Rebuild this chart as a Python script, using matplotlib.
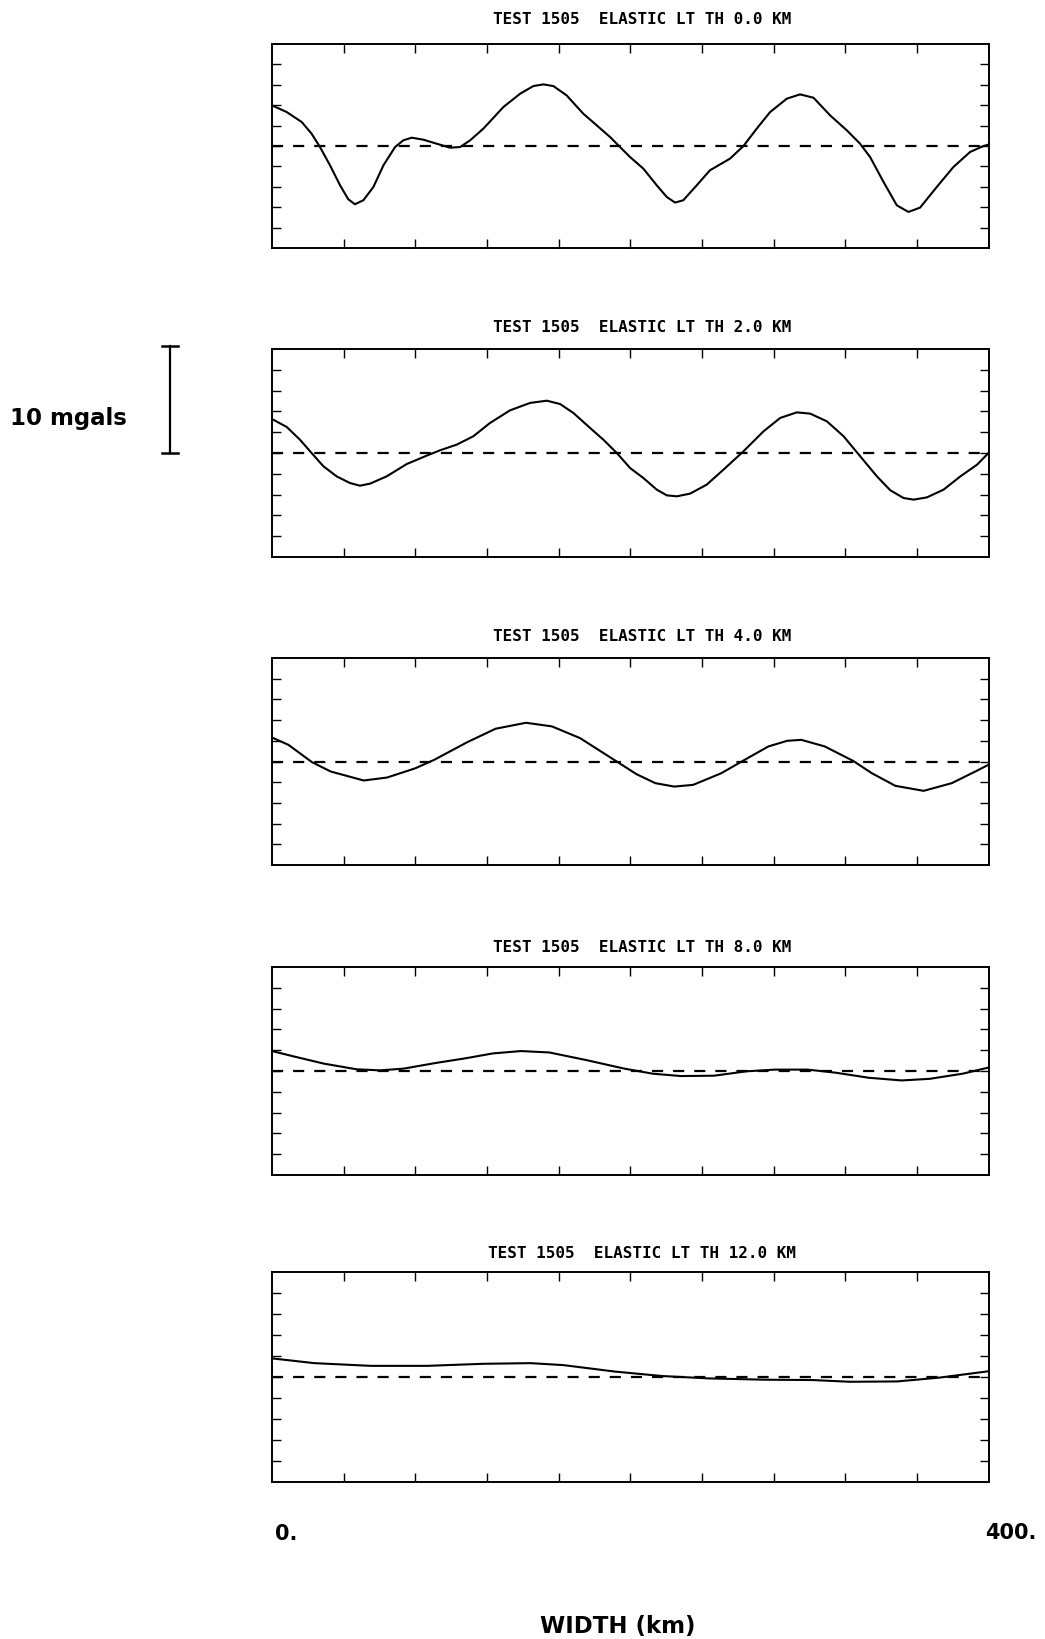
import numpy as np
import matplotlib
matplotlib.use("Agg")
import matplotlib.pyplot as plt
import matplotlib.transforms as mtransforms

# elastic lithosphere thickness of each panel (km)
thickness = [0.0, 2.0, 4.0, 8.0, 12.0]

# gravity anomaly profiles (km, mgal)
x_0km = [0, 8.2, 16.6, 22.1, 26.8, 32.4, 38, 42.6, 46.3, 51, 56.6, 62.2, 68.7, 73.3,
         78, 84.5, 91.9, 99.4, 105, 110.6, 118, 129.2, 138.5, 145.9, 151.5, 157.1,
         164.5, 173.8, 181.3, 188.7, 194.3, 199.9, 207.3, 214.8, 220.4, 225, 229.6,
         237.1, 244.5, 255.7, 263.2, 270.6, 278.1, 287.4, 294.8, 302.3, 311.6, 320.9,
         328.3, 333.9, 341.4, 348.8, 355.3, 361.8, 371.1, 380.4, 389.7, 397.2, 400]
g_0km = [3.86, 3.23, 2.28, 1.17, -0.10, -1.84, -3.74, -5.07, -5.54, -5.16, -3.9, -1.84,
         -0.1, 0.54, 0.79, 0.60, 0.22, -0.16, -0.1, 0.54, 1.65, 3.71, 4.97, 5.70, 5.86,
         5.70, 4.81, 3.07, 1.96, 0.86, -0.1, -1.05, -2.15, -3.74, -4.85, -5.38, -5.16,
         -3.74, -2.31, -1.20, 0, 1.65, 3.23, 4.50, 4.91, 4.59, 2.91, 1.49,
         0.22, -1.05, -3.42, -5.64, -6.27, -5.86, -3.90, -2.0, -0.57, 0, 0.13]

x_2km = [0, 8.2, 15.6, 22.1, 28.7, 36.1, 43.5, 49.1, 54.7, 64, 75.2, 86.3, 93.8, 103.1,
         112.4, 121.7, 132.9, 144.1, 153.4, 160.8, 168.3, 177.6, 185, 192.5, 199.9,
         207.3, 214.8, 220.4, 226, 233.4, 242.7, 252, 263.2, 274.4, 283.7, 293, 300.5,
         309.8, 319.1, 328.4, 337.7, 345.2, 352.6, 358.2, 365.6, 374.9, 384.3, 393.6, 400]
g_2km = [3.17, 2.43, 1.24, 0, -1.24, -2.18, -2.80, -3.05, -2.86, -2.18, -1.03, -0.25, 0.25,
         0.78, 1.56, 2.80, 3.98, 4.67, 4.88, 4.57, 3.73, 2.33, 1.24, 0, -1.40,
         -2.33, -3.42, -3.95, -4.04, -3.79, -2.95, -1.56, 0.16, 2.02, 3.27, 3.79, 3.67,
         2.95, 1.56, -0.31, -2.18, -3.48, -4.20, -4.35, -4.14, -3.42, -2.18, -1.09, 0]

x_4km = [0, 9.2, 22.3, 32.8, 51.2, 64.3, 80.1, 90.6, 109, 124.8, 141.8, 156.3, 172,
         193, 203.5, 214, 224.6, 235.1, 250.8, 263.9, 277.1, 287.6, 295.5, 308.6,
         324.4, 334.9, 348, 363.8, 379.5, 392.6, 400]
g_4km = [2.25, 1.56, -0.06, -0.94, -1.78, -1.5, -0.63, 0.16, 1.81, 3.07, 3.63, 3.29, 2.19,
         -0.06, -1.19, -2.03, -2.35, -2.19, -1.1, 0.16, 1.41, 1.94, 2.03, 1.41,
         0.06, -1.1, -2.28, -2.75, -2.03, -0.94, -0.31]

x_8km = [0, 13.1, 28.9, 47.2, 60.3, 73.4, 91.8, 107.5, 123.3, 139, 154.8, 175.7, 196.7,
         212.5, 228.2, 246.6, 264.9, 280.7, 299, 314.8, 333.1, 351.5, 367.2, 385.6, 400]
g_8km = [1.86, 1.32, 0.69, 0.16, 0.06, 0.22, 0.76, 1.17, 1.64, 1.86, 1.73, 1.01, 0.22,
         -0.25, -0.47, -0.44, -0.03, 0.13, 0.13, -0.16, -0.63, -0.88, -0.73, -0.25, 0.32]

x_12km = [0, 23.6, 55.1, 86.6, 118, 144.3, 162.6, 191.5, 217.7, 243.9, 275.4, 301.6,
          322.6, 348.9, 372.5, 400]
g_12km = [1.72, 1.28, 1.03, 1.03, 1.22, 1.28, 1.10, 0.5, 0.09, -0.13, -0.25, -0.28,
          -0.44, -0.41, -0.06, 0.53]

profiles = [(x_0km, g_0km), (x_2km, g_2km), (x_4km, g_4km), (x_8km, g_8km), (x_12km, g_12km)]

# panel top/bottom in pixels of the 1045x1640 page, title centre y
W, H = 1045, 1640
panel_px = [(45, 249), (350, 558), (659, 866), (968, 1176), (1273, 1483)]
title_px = [19, 327, 637, 948, 1254]
left_px, right_px = 272, 988.5

fig = plt.figure(figsize=(W / 100, H / 100), dpi=100)
fig.patch.set_facecolor("w")

ylim = 9.7
axes = []
for i, ((top, bot), (xs, gs)) in enumerate(zip(panel_px, profiles)):
    ax = fig.add_axes([left_px / W, 1 - bot / H, (right_px - left_px) / W, (bot - top) / H])
    ax.plot(xs, gs, color="k", lw=1.5, solid_joinstyle="round")
    ax.axhline(0, color="k", lw=1.6, ls=(0, (5, 4.5)))
    ax.set_xlim(0, 400)
    ax.set_ylim(-ylim, ylim)
    ax.set_xticks(np.arange(40, 400, 40))
    ax.set_yticks(np.linspace(-ylim, ylim, 11)[1:-1])
    ax.tick_params(direction="in", length=6.5, width=1.0, top=True, right=True,
                   labelbottom=False, labelleft=False)
    for s in ax.spines.values():
        s.set_linewidth(1.4)
    fig.text(642 / W, 1 - title_px[i] / H,
             "TEST 1505  ELASTIC LT TH %.1f KM" % thickness[i],
             ha="center", va="center", family="DejaVu Sans Mono",
             fontweight="bold", fontsize=11.5)
    axes.append(ax)

# 10 mgal scale bar next to the second panel
ax2 = axes[1]
trans = mtransforms.blended_transform_factory(ax2.transAxes, ax2.transData)
bx = (170 - left_px) / (right_px - left_px)
cap = 0.011
ax2.plot([bx, bx], [0, 10], color="k", lw=1.6, transform=trans, clip_on=False)
ax2.plot([bx - cap, bx + cap], [0, 0], color="k", lw=1.8, transform=trans, clip_on=False)
ax2.plot([bx - cap, bx + cap], [10, 10], color="k", lw=1.8, transform=trans, clip_on=False)
fig.text(10 / W, 1 - 418 / H, "10 mgals", ha="left", va="center",
         fontweight="bold", fontsize=16.5)

fig.text(275 / W, 1 - 1534 / H, "0.", ha="left", va="center", fontweight="bold", fontsize=15)
fig.text(1036 / W, 1 - 1533 / H, "400.", ha="right", va="center", fontweight="bold", fontsize=15)
fig.text(618 / W, 1 - 1627 / H, "WIDTH (km)", ha="center", va="center",
         fontweight="bold", fontsize=16.5)

fig.savefig("out.png", dpi=100)
